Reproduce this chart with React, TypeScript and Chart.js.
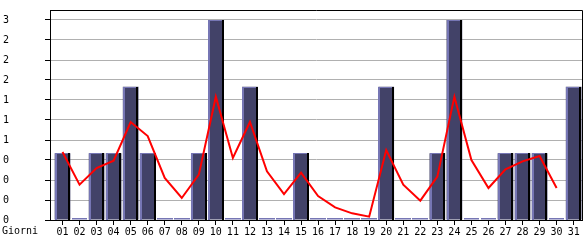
import React, { useEffect, useRef } from "react";
import { Chart, registerables } from "chart.js";

Chart.register(...registerables);

const days = ["01","02","03","04","05","06","07","08","09","10","11","12","13","14","15","16","17","18","19","20","21","22","23","24","25","26","27","28","29","30","31"];
const visits = [1,0,1,1,2,1,0,0,1,3,0,2,0,0,1,0,0,0,0,2,0,0,1,3,0,0,1,1,1,0,2];
const trend = [1.02,0.53,0.78,0.89,1.47,1.26,0.63,0.33,0.68,1.85,0.93,1.47,0.73,0.39,0.71,0.36,0.19,0.1,0.05,1.05,0.53,0.29,0.65,1.85,0.9,0.48,0.76,0.88,0.96,0.48];
const yTicks = [0,0.3,0.6,0.9,1.2,1.5,1.8,2.1,2.4,2.7,3.0];
const axisTitle = "Giorni";

const FONT = "DejaVu Sans Mono";

export default function App() {
  const ref = useRef<HTMLCanvasElement | null>(null);
  useEffect(() => {
    if (!ref.current) return;
    const barData = days.map((d, i) => ({ x: i + 1, y: visits[i] }));
    const lineData = trend.map((v, i) => ({ x: i + 1, y: v }));

    const barDeco = {
      id: "barDeco",
      afterDatasetDraw(chart: any, args: any) {
        if (args.index !== 0) return;
        const ctx = chart.ctx;
        const meta = chart.getDatasetMeta(0);
        ctx.save();
        meta.data.forEach((el: any) => {
          const { x, y, base, width } = el.getProps(["x", "y", "base", "width"], true);
          const l = Math.round(x - width / 2);
          const r = Math.round(x + width / 2);
          const top = Math.round(y);
          const b = Math.round(base);
          if (b - top < 1) {
            ctx.fillStyle = "#7676b4";
            ctx.fillRect(l, b - 2, r - l, 1.5);
            return;
          }
          ctx.fillStyle = "#7676b4";
          ctx.fillRect(l, top, 2, b - top);
          ctx.fillRect(l, top, r - l - 2, 1);
          ctx.fillStyle = "#000000";
          ctx.fillRect(r - 2, top, 2, b - top);
        });
        ctx.restore();
      },
    };

    const frame = {
      id: "frame",
      beforeDatasetsDraw(chart: any) {
        const { ctx, chartArea } = chart;
        ctx.save();
        ctx.strokeStyle = "#000";
        ctx.lineWidth = 1;
        ctx.beginPath();
        ctx.moveTo(chartArea.left, Math.round(chartArea.top) + 0.5);
        ctx.lineTo(Math.round(chartArea.right) + 0.5, Math.round(chartArea.top) + 0.5);
        ctx.lineTo(Math.round(chartArea.right) + 0.5, chartArea.bottom);
        ctx.stroke();
        ctx.restore();
      },
      afterDraw(chart: any) {
        const { ctx } = chart;
        ctx.save();
        ctx.fillStyle = "#000";
        ctx.font = `10px "${FONT}"`;
        ctx.textBaseline = "middle";
        ctx.textAlign = "left";
        ctx.fillText(axisTitle, 2, 231);
        ctx.restore();
      },
    };

    const chart = new Chart(ref.current, {
      data: {
        datasets: [
          {
            type: "bar",
            data: barData,
            backgroundColor: "#424268",
            borderWidth: 0,
            barPercentage: 0.92,
            categoryPercentage: 1,
            order: 2,
          } as any,
          {
            type: "line",
            data: lineData,
            borderColor: "#ff0000",
            borderWidth: 2,
            pointRadius: 0,
            tension: 0,
            fill: false,
            order: 1,
          } as any,
        ],
      },
      options: {
        responsive: false,
        animation: false,
        layout: { padding: { left: 3, right: 3, top: 10, bottom: 0 } },
        plugins: { legend: { display: false }, tooltip: { enabled: false } },
        scales: {
          x: {
            type: "linear",
            offset: false,
            min: 0.266,
            max: 31.49,
            afterBuildTicks: (s: any) => {
              s.ticks = days.map((d, i) => ({ value: i + 1 }));
            },
            afterFit: (s: any) => {
              s.height = 20;
            },
            ticks: {
              autoSkip: false,
              maxRotation: 0,
              color: "#000",
              padding: 1,
              font: { family: FONT, size: 10 },
              callback: (v: any) => days[Math.round(v) - 1] ?? "",
            },
            grid: { drawOnChartArea: false, offset: false, tickLength: 5, tickColor: "#000" },
            border: { color: "#000", width: 1 },
          },
          y: {
            type: "linear",
            min: 0,
            max: 3.15,
            afterBuildTicks: (s: any) => {
              s.ticks = yTicks.map((v) => ({ value: v }));
            },
            afterFit: (s: any) => {
              s.width = 47;
            },
            ticks: {
              color: "#000",
              crossAlign: "far",
              font: { family: FONT, size: 10 },
              callback: (v: any) => String(Math.floor(Number(v) + 1e-6)),
            },
            grid: { color: "#b0b0b0", tickLength: 5, tickColor: "#000" },
            border: { color: "#000", width: 1 },
          },
        },
      } as any,
      plugins: [barDeco, frame],
    });
    return () => chart.destroy();
  }, []);

  return (
    <div style={{ position: "fixed", left: 0, top: 0, width: 585, height: 240, background: "#fff" }}>
      <canvas ref={ref} width={585} height={240} style={{ display: "block" }} />
    </div>
  );
}
